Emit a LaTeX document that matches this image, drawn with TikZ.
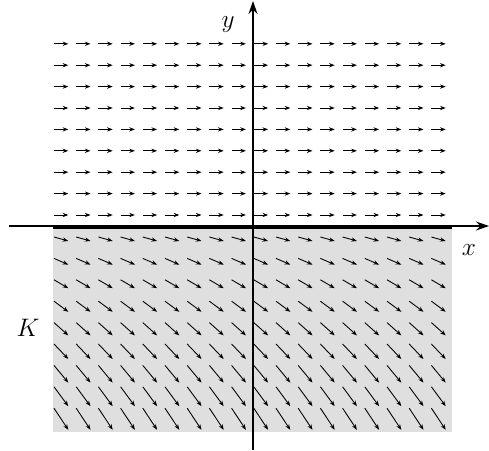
\documentclass[tikz,border=0pt]{standalone}
\usepackage{tikz}
\usetikzlibrary{arrows.meta,calc}

\begin{document}
\begin{tikzpicture}[
        axisLine/.style={
            -{Stealth[length=2.6mm, width=1.8mm]},
            line width=0.7pt
        },
        fieldArrow/.style={
            -{Stealth[length=3.2pt, width=2.4pt]},
            line width=0.5pt
        },
        regionK/.style={
            fill=gray!25,
            draw=none
        },
        boundary/.style={
            line width=1.6pt,
            draw=black
        }
    ]

        % Picture frame
        \useasboundingbox (-5.06,-4.48) rectangle (4.72,4.52);

        % Set K
        \fill[regionK] (-4,0) rectangle (3.98,-4.12);

        % Axes
        \coordinate (xStart) at (-4.88,0);
        \coordinate (xEnd) at (4.72,0);
        \coordinate (yStart) at (0,-4.48);
        \coordinate (yEnd) at (0,4.50);

        \draw[axisLine] (xStart) -- (xEnd);
        \draw[axisLine] (yStart) -- (yEnd);

        % Boundary of K
        \coordinate (bLeft) at (-4,-0.03);
        \coordinate (bRight) at (3.98,-0.03);
        \draw[boundary] (bLeft) -- (bRight);

        % Field above the axis
        \foreach \col in {0,...,17}
        {
            \foreach \row in {0,...,8}
            {
                \draw[fieldArrow]
                ({-3.98+0.444*\col}, {0.22+0.428*\row})
                --
                ++(0.286,0);
            }
        }

        % Field in K
        \foreach \col in {0,...,17}
        {
            \foreach \row in {0,...,8}
            {
                \draw[fieldArrow]
                ({-3.98+0.444*\col}, {-0.22-0.428*\row})
                --
                ++(0.286,{-0.08-0.044*\row});
            }
        }

        % Labels
        \node (xLabel) at (4.32,-0.48) {\Large $x$};
        \node (yLabel) at (-0.5,4.02) {\Large $y$};
        \node (kLabel) at (-4.5,-2.04) {\Large $K$};

    \end{tikzpicture}
\end{document}
